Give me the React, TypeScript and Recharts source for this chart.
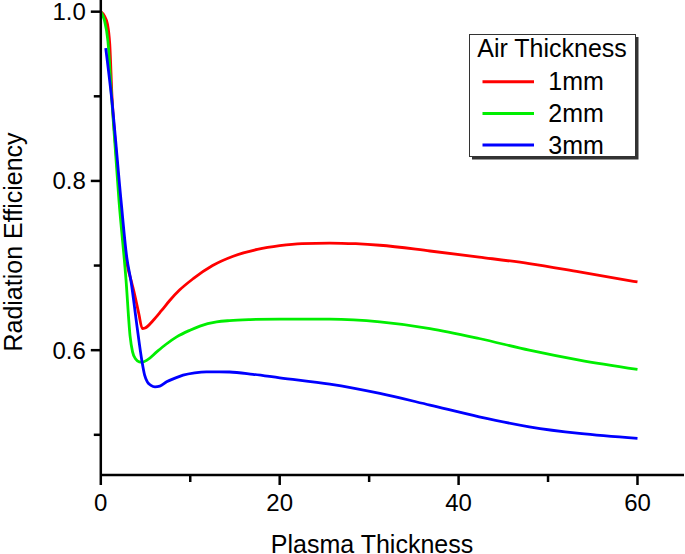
import React from "react";
import { LineChart, Line, XAxis, YAxis, Legend } from "recharts";

const seriesNames = ["1mm", "2mm", "3mm"];
const seriesColors = ["#ff0000", "#00ee00", "#0000ff"];

const xRed = [0, 0.4, 0.75, 1.0, 1.25, 1.7, 2.15, 2.9, 3.45, 3.82, 4.25, 4.64, 4.95, 5.87, 6.8, 7.73, 8.8, 10.33, 12.5, 14.8, 17.5, 20, 22.5, 25.6, 28.5, 31.2, 36.8, 42.3, 47.9, 53.5, 60];
const yRed = [1.0, 0.995, 0.985, 0.962, 0.9, 0.835, 0.775, 0.704, 0.68, 0.664, 0.643, 0.6255, 0.6262, 0.6354, 0.647, 0.659, 0.671, 0.6845, 0.7, 0.711, 0.719, 0.7235, 0.726, 0.7266, 0.7258, 0.724, 0.7172, 0.71, 0.7023, 0.6924, 0.6806];

const xGreen = [0, 0.4, 0.8, 1.2, 2.03, 2.82, 3.27, 3.55, 3.9, 4.3, 4.6, 5.2, 6.25, 7.3, 8.48, 9.97, 11.08, 12.95, 14.4, 16.7, 20, 25.6, 31.2, 36.8, 42.3, 47.9, 53.5, 60];
const yGreen = [1.0, 0.99, 0.965, 0.9, 0.777, 0.683, 0.617, 0.598, 0.5895, 0.5862, 0.5858, 0.5885, 0.598, 0.607, 0.6157, 0.6236, 0.6285, 0.6334, 0.635, 0.6362, 0.6368, 0.6366, 0.6334, 0.6256, 0.6138, 0.6, 0.5882, 0.5772];

const xBlue = [0.55, 1.2, 2.26, 2.9, 3.4, 4.0, 4.6, 4.9, 5.2, 5.6, 6.06, 6.6, 7.36, 8.3, 9.2, 10.5, 11.8, 14.4, 17, 20, 25.6, 31.2, 36.8, 42.3, 47.9, 53.5, 60];
const yBlue = [0.957, 0.899, 0.777, 0.71, 0.68, 0.632, 0.587, 0.5705, 0.5625, 0.5585, 0.5567, 0.5575, 0.5626, 0.567, 0.5705, 0.5732, 0.5744, 0.5742, 0.5715, 0.5673, 0.5599, 0.5489, 0.5351, 0.5213, 0.5095, 0.5016, 0.4958];

const xTicks = [0, 10, 20, 30, 40, 50, 60];
const yTicks = [0.5, 0.6, 0.7, 0.8, 0.9, 1.0];

const legendTitle = "Air Thickness";
const xTitle = "Plasma Thickness";
const yTitle = "Radiation Efficiency";

const FONT = "'Liberation Sans', Arial, sans-serif";

const toData = (xs: number[], ys: number[]) => xs.map((x, i) => ({ x, y: ys[i] }));
const allData = [toData(xRed, yRed), toData(xGreen, yGreen), toData(xBlue, yBlue)];

const XTick = (props: any) => {
  const { x, y, payload } = props;
  const v = payload.value;
  const major = v % 20 === 0;
  return (
    <g>
      <line x1={x} x2={x} y1={y} y2={y + (major ? 10 : 7)} stroke="#000" strokeWidth={2.5} />
      {major && (
        <text x={x} y={y + 36} textAnchor="middle" fontSize={24} fontFamily={FONT} fill="#000">
          {v}
        </text>
      )}
    </g>
  );
};

const YTick = (props: any) => {
  const { x, y, payload } = props;
  const v = payload.value;
  const major = Math.round(v * 10) % 2 === 0;
  return (
    <g>
      <line x1={x} x2={x - (major ? 10 : 7)} y1={y} y2={y} stroke="#000" strokeWidth={2.5} />
      {major && (
        <text x={x - 15} y={y + 8.5} textAnchor="end" fontSize={24} fontFamily={FONT} fill="#000">
          {v.toFixed(1)}
        </text>
      )}
    </g>
  );
};

const LegendBox = () => (
  <svg width={172} height={128} style={{ display: "block" }}>
    <rect x={3} y={3} width={166.5} height={122.5} fill="#333" />
    <rect x={0.5} y={0.5} width={166} height={122} fill="#fff" stroke="#333" strokeWidth={1} />
    <text x={83} y={22.7} textAnchor="middle" fontSize={25} fontFamily={FONT} fill="#000">
      {legendTitle}
    </text>
    {seriesNames.map((n, i) => (
      <g key={n}>
        <line x1={13.5} x2={65} y1={47.7 + i * 31.7} y2={47.7 + i * 31.7} stroke={seriesColors[i]} strokeWidth={3} />
        <text x={79.3} y={56.2 + i * 31.7} fontSize={25} fontFamily={FONT} fill="#000">
          {n}
        </text>
      </g>
    ))}
  </svg>
);

export default function App() {
  return (
    <div style={{ position: "absolute", left: 0, top: 0, background: "#fff" }}>
      <LineChart width={685} height={554} margin={{ top: 0, right: 1, left: 0, bottom: 0 }}>
        <XAxis
          type="number"
          dataKey="x"
          domain={[0, 65.2]}
          ticks={xTicks}
          allowDataOverflow
          height={79}
          tickSize={0}
          tickMargin={0}
          tickLine={false}
          axisLine={{ stroke: "#000", strokeWidth: 2.5 }}
          tick={<XTick />}
          interval={0}
          label={{
            content: () => (
              <text x={372} y={553} textAnchor="middle" fontSize={25} fontFamily={FONT} fill="#000">
                {xTitle}
              </text>
            ),
          }}
        />
        <YAxis
          type="number"
          dataKey="y"
          domain={[0.4525, 1.0138]}
          ticks={yTicks}
          allowDataOverflow
          width={100.8}
          tickSize={0}
          tickMargin={0}
          tickLine={false}
          axisLine={{ stroke: "#000", strokeWidth: 2.5 }}
          tick={<YTick />}
          interval={0}
          label={{
            content: () => (
              <text
                x={22}
                y={242}
                textAnchor="middle"
                fontSize={25}
                fontFamily={FONT}
                fill="#000"
                transform="rotate(-90 22 242)"
              >
                {yTitle}
              </text>
            ),
          }}
        />
        {allData.map((d, i) => (
          <Line
            key={seriesNames[i]}
            data={d}
            dataKey="y"
            name={seriesNames[i]}
            type="monotone"
            stroke={seriesColors[i]}
            strokeWidth={2.8}
            dot={false}
            activeDot={false}
            isAnimationActive={false}
          />
        ))}
        <Legend
          layout="vertical"
          align="center"
          verticalAlign="middle"
          wrapperStyle={{ left: 469, top: 34, width: 172, height: 128 }}
          content={() => <LegendBox />}
        />
      </LineChart>
    </div>
  );
}
